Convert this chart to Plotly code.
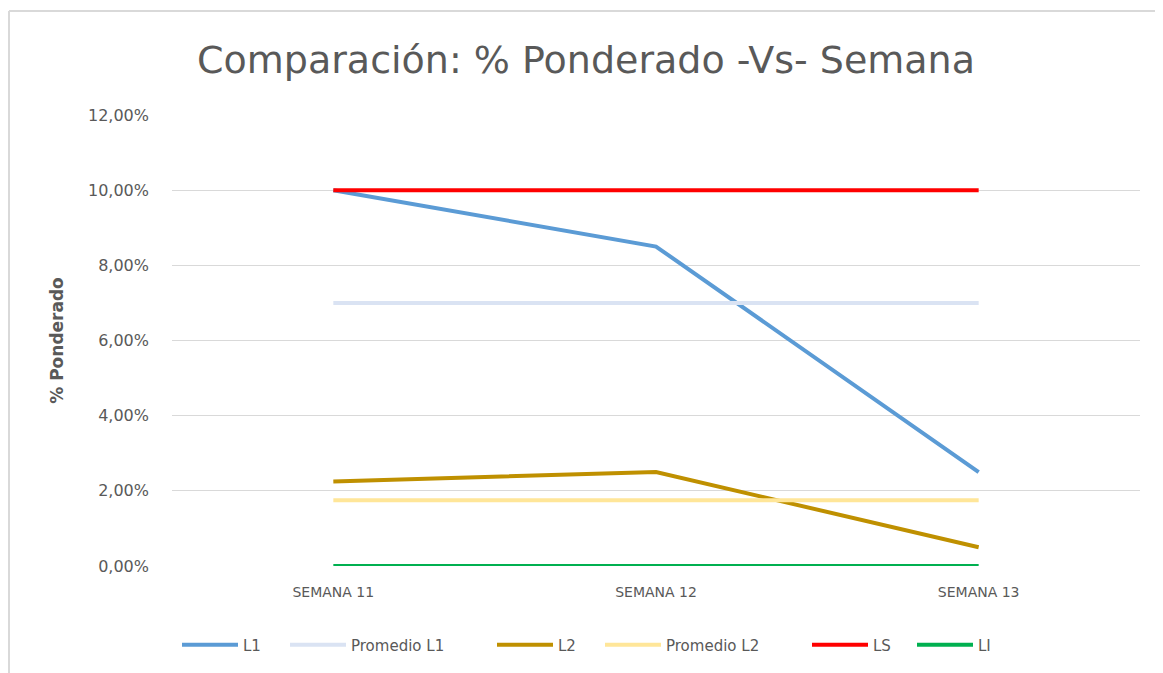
import plotly.graph_objects as go

semanas = ["SEMANA 11", "SEMANA 12", "SEMANA 13"]
l1 = [0.100, 0.085, 0.025]
promedio_l1 = [0.070, 0.070, 0.070]
l2 = [0.0225, 0.025, 0.005]
promedio_l2 = [0.0175, 0.0175, 0.0175]
ls = [0.10, 0.10, 0.10]
li = [0.0, 0.0, 0.0]

series = [
    ("L1", l1, "#5B9BD5"),
    ("Promedio L1", promedio_l1, "#DAE3F3"),
    ("L2", l2, "#BF9000"),
    ("Promedio L2", promedio_l2, "#FFE699"),
    ("LS", ls, "#FF0000"),
    ("LI", li, "#00B050"),
]
# page x where each legend entry starts (layout only)
legend_starts = [185, 293, 500, 608, 815, 920]

# page is drawn with an 8px body offset
OFF = 8
W, H = 1155, 665
L, R, T, B = 164, 23, 107, 107
pw, ph = W - L - R, H - T - B

def px_x(p):  # page pixel -> paper
    return (p - OFF - L) / pw

def px_y(p):
    return (H - B - (p - OFF)) / ph

FONT = "DejaVu Sans, Verdana, sans-serif"

fig = go.Figure()
legend_layouts = {}
for i, ((name, vals, color), start) in enumerate(zip(series, legend_starts)):
    lname = "legend" if i == 0 else f"legend{i + 1}"
    fig.add_trace(go.Scatter(
        x=semanas, y=vals, name=name, mode="lines",
        line=dict(color=color, width=4), legend=lname, showlegend=True,
    ))
    legend_layouts[lname] = dict(
        orientation="h", x=px_x(start - 8), xanchor="left",
        y=px_y(645), yanchor="middle",
        font=dict(size=15, color="#595959"),
        itemwidth=56, bgcolor="rgba(0,0,0,0)",
    )

fig.update_layout(
    width=W, height=H,
    showlegend=True,
    margin=dict(l=L, r=R, t=T, b=B),
    paper_bgcolor="white", plot_bgcolor="white",
    separators=",.",
    font=dict(family=FONT, color="#595959"),
    title=dict(
        text="Comparación: % Ponderado -Vs- Semana",
        x=px_x(586), xanchor="center", xref="paper",
        y=1 - (60 - OFF) / H, yanchor="middle",
        font=dict(size=38, color="#595959", family=FONT),
    ),
    xaxis=dict(
        type="category", range=[-0.5, 2.5],
        showgrid=False, zeroline=False, showline=False,
        tickfont=dict(size=14, color="#595959"),
        ticks="", ticklabelstandoff=16,
    ),
    yaxis=dict(
        range=[0, 0.12], dtick=0.02, tickformat=".2%",
        showgrid=True, gridcolor="#D9D9D9", gridwidth=1,
        zeroline=False, showline=False,
        tickfont=dict(size=16, color="#595959"),
        ticks="", ticklabelstandoff=22,
        title=dict(text="<b>% Ponderado</b>", font=dict(size=17, color="#595959"), standoff=20),
    ),
    shapes=[
        dict(type="line", xref="paper", yref="paper",
             x0=px_x(9), x1=px_x(W + 20), y0=px_y(11), y1=px_y(11),
             line=dict(color="#D9D9D9", width=2), layer="below"),
        dict(type="line", xref="paper", yref="paper",
             x0=px_x(9), x1=px_x(9), y0=px_y(11), y1=px_y(H + 20),
             line=dict(color="#D9D9D9", width=2), layer="below"),
    ],
    **legend_layouts,
)

fig.write_html("out.html")
